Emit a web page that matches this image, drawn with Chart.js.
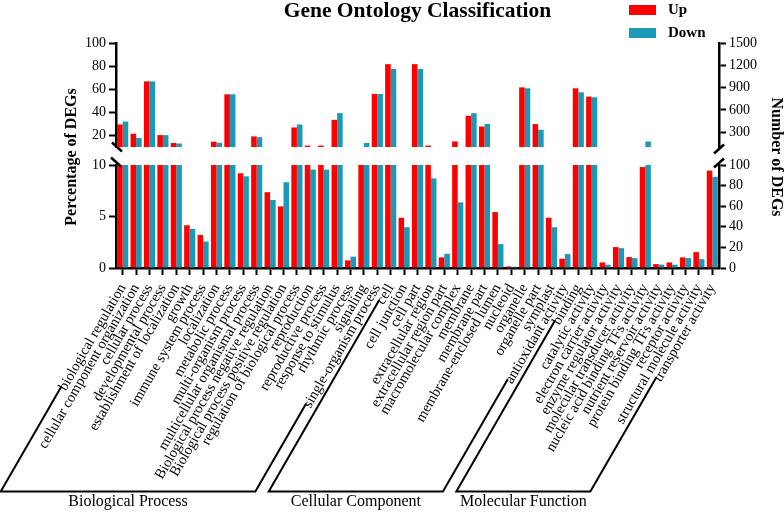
<!DOCTYPE html>
<html>
<head>
<meta charset="utf-8">
<script src="https://cdn.jsdelivr.net/npm/chart.js@4.4.1/dist/chart.umd.min.js"></script>
<style>
    html, body { margin: 0; padding: 0; background: #fff; }
    #wrap { position: relative; width: 784px; height: 512px; }
    #wrap canvas { position: absolute; left: 0; top: 0; }
</style>
</head>
<body>
<div id="wrap">
    <canvas id="lowerChart" width="784" height="512"></canvas>
    <canvas id="upperChart" width="784" height="160"></canvas>
</div>
<script>
// GO terms, in plot order
const categories = [
    'biological regulation', 'cellular component organization', 'cellular process',
    'developmental process', 'establishment of localization', 'growth',
    'immune system process', 'localization', 'metabolic process',
    'multi-organism process', 'multicellular organismal process',
    'Biological process negative regulation', 'Biological process positive regulation',
    'regulation of biological process', 'reproduction', 'reproductive process',
    'response to stimulus', 'rhythmic process', 'signaling', 'single-organism process',
    'cell', 'cell junction', 'cell part', 'extracellular region', 'extracellular region part',
    'macromolecular complex', 'membrane', 'membrane part', 'membrane-enclosed lumen',
    'nucleoid', 'organelle', 'organelle part', 'symplast',
    'antioxidant activity', 'binding', 'catalytic activity', 'electron carrier activity',
    'enzyme regulator activity', 'molecular transducer activity',
    'nucleic acid binding TFs activity', 'nutrient reservoir activity',
    'protein binding TFs activity', 'receptor activity', 'structural molecule activity',
    'transporter activity'
];

// Percentage of DEGs
const upPct = [29.5, 21.5, 66.8, 20.3, 13.5, 4.15, 3.2, 14.6, 55.6, 9.2, 19.2, 7.36, 5.98, 26.9, 11.2,
    11.2, 33.5, 0.74, 10, 55.9, 81.7, 4.88, 81.7, 11.2, 1.03, 14.8, 37, 27.7, 5.43, 0.15,
    61.6, 29.8, 4.88, 0.9, 60.8, 53.6, 0.54, 2.03, 1.06, 9.8, 0.38, 0.54, 1.03, 1.54, 9.46];
const downPct = [32, 17.8, 66.8, 20.3, 13, 3.8, 2.57, 13.7, 55.6, 8.9, 18.5, 6.6, 8.33, 29.5, 9.55,
    9.55, 39.3, 1.1, 13.5, 55.9, 77.6, 3.96, 77.6, 8.7, 1.38, 6.37, 39.3, 30, 2.32, 0.12,
    60.8, 24.9, 3.96, 1.35, 57.3, 53, 0.32, 1.93, 0.96, 14.8, 0.33, 0.32, 0.96, 0.86, 8.85];

// axis break and tick labels
const breakAt = 10;
const leftTopTicks = [20, 40, 60, 80, 100];
const leftBottomTicks = [0, 5, 10];
const rightTopTicks = [300, 600, 900, 1200, 1500];
const rightBottomTicks = [0, 20, 40, 60, 80, 100];

// groups along the x axis (index of first / last label the bracket touches)
const groupNames = ['Biological Process', 'Cellular Component', 'Molecular Function'];
const groupFirst = [0, 20, 34];
const groupLast = [19, 33, 44];

const upColor = '#ff0000';
const downColor = '#1a9ab6';
const serif = '"Liberation Serif", "Times New Roman", serif';

Chart.defaults.font.family = serif;
Chart.defaults.color = '#000';

const LABEL_ANGLE = 60;
const LABEL_FONT = 14.5;
const LABEL_PAD = 6;

function yAxis(pos, min, max, ticks, width) {
    return {
        position: pos,
        min: min,
        max: max,
        afterBuildTicks: s => { s.ticks = ticks.map(v => ({ value: v })); },
        afterFit: s => { s.width = width; },
        border: { color: '#000', width: 2.5 },
        grid: { drawOnChartArea: false, tickLength: 7, tickColor: '#000', tickWidth: 2 },
        ticks: { font: { size: 14 }, padding: 3, color: '#000', callback: v => String(v) }
    };
}

// title + legend on the upper panel
const titleLegend = {
    id: 'titleLegend',
    afterDraw(chart) {
        const ctx = chart.ctx;
        const area = chart.chartArea;
        ctx.save();
        ctx.fillStyle = '#000';
        ctx.font = 'bold 21.5px ' + serif;
        ctx.textAlign = 'center';
        ctx.textBaseline = 'alphabetic';
        ctx.fillText('Gene Ontology Classification', (area.left + area.right) / 2, 17);

        ctx.font = 'bold 15px ' + serif;
        ctx.textAlign = 'left';
        ctx.textBaseline = 'middle';
        chart.data.datasets.forEach((ds, i) => {
            const y = 5 + i * 23;
            ctx.fillStyle = ds.backgroundColor;
            ctx.fillRect(629, y, 27, 10);
            ctx.fillStyle = '#000';
            ctx.fillText(ds.label, 668, y + 5);
        });
        ctx.restore();
    }
};

// axis titles, break marks and group brackets on the lower chart
const decorations = {
    id: 'decorations',
    afterDraw(chart) {
        const ctx = chart.ctx;
        const area = chart.chartArea;
        const x = chart.scales.x;
        const upperBottom = 147;
        ctx.save();
        ctx.fillStyle = '#000';
        ctx.strokeStyle = '#000';

        // axis titles
        ctx.font = 'bold 16px ' + serif;
        ctx.textAlign = 'center';
        ctx.textBaseline = 'middle';
        ctx.save();
        ctx.translate(72, 157);
        ctx.rotate(-Math.PI / 2);
        ctx.fillText('Percentage of DEGs', 0, 0);
        ctx.restore();
        ctx.save();
        ctx.translate(776, 157);
        ctx.rotate(Math.PI / 2);
        ctx.fillText('Number of DEGs', 0, 0);
        ctx.restore();

        // break marks
        ctx.lineWidth = 2.5;
        const mark = (cx, cy, dir) => {
            ctx.beginPath();
            ctx.moveTo(cx - 5, cy - 4.5 * dir);
            ctx.lineTo(cx + 5, cy + 4.5 * dir);
            ctx.stroke();
        };
        mark(area.left + 1, upperBottom, 1);
        mark(area.left, area.top - 3, 1);
        mark(area.right, upperBottom + 2, -1);
        mark(area.right, area.top - 2, -1);

        // group brackets following the rotated labels
        ctx.font = LABEL_FONT + 'px ' + serif;
        const a = LABEL_ANGLE * Math.PI / 180;
        const baseY = 491.5;
        const labelStart = i => {
            const w = ctx.measureText(categories[i]).width;
            const px = x.getPixelForValue(i);
            const py = x.top + 7 + LABEL_PAD;
            return [px - w * Math.cos(a) - 1, py + w * Math.sin(a) + 1];
        };
        const toBase = p => [p[0] - (baseY - p[1]) / Math.tan(a), baseY];

        ctx.lineWidth = 2;
        groupNames.forEach((name, g) => {
            const s = labelStart(groupFirst[g]);
            const e = labelStart(groupLast[g]);
            const sb = toBase(s);
            const eb = toBase(e);
            ctx.beginPath();
            ctx.moveTo(s[0], s[1]);
            ctx.lineTo(sb[0], sb[1]);
            ctx.lineTo(eb[0], eb[1]);
            ctx.lineTo(e[0], e[1]);
            ctx.stroke();
            ctx.save();
            ctx.font = '16px ' + serif;
            ctx.textAlign = 'center';
            ctx.textBaseline = 'middle';
            ctx.fillText(name, (sb[0] + eb[0]) / 2, 502);
            ctx.restore();
        });
        ctx.restore();
    }
};

const barOpts = { bar: { categoryPercentage: 0.83, barPercentage: 1 } };

// upper panel: values above the break
const upperChart = new Chart(document.getElementById('upperChart'), {
    type: 'bar',
    data: {
        labels: categories,
        datasets: [
            { label: 'Up', data: upPct.map(v => v > breakAt ? [breakAt, v] : null), backgroundColor: upColor, yAxisID: 'y' },
            { label: 'Down', data: downPct.map(v => v > breakAt ? [breakAt, v] : null), backgroundColor: downColor, yAxisID: 'y' }
        ]
    },
    options: {
        responsive: false,
        animation: false,
        layout: { padding: { top: 43, bottom: 13, left: 0, right: 0 } },
        datasets: barOpts,
        plugins: { legend: { display: false }, tooltip: { enabled: false } },
        scales: {
            x: { display: false, offset: true },
            y: yAxis('left', breakAt, 100, leftTopTicks, 116),
            y2: yAxis('right', 100, 1500, rightTopTicks, 65)
        }
    },
    plugins: [titleLegend]
});

// lower panel: values up to the break
const lowerChart = new Chart(document.getElementById('lowerChart'), {
    type: 'bar',
    data: {
        labels: categories,
        datasets: [
            { label: 'Up', data: upPct.map(v => Math.min(v, breakAt)), backgroundColor: upColor, yAxisID: 'y' },
            { label: 'Down', data: downPct.map(v => Math.min(v, breakAt)), backgroundColor: downColor, yAxisID: 'y' }
        ]
    },
    options: {
        responsive: false,
        animation: false,
        layout: { padding: { top: 165, bottom: 0, left: 0, right: 0 } },
        datasets: barOpts,
        plugins: { legend: { display: false }, tooltip: { enabled: false } },
        scales: {
            x: {
                offset: true,
                afterFit: s => { s.height = 244; },
                border: { color: '#000', width: 2.5 },
                grid: { offset: false, drawOnChartArea: false, tickLength: 7, tickColor: '#000', tickWidth: 2 },
                ticks: {
                    autoSkip: false,
                    minRotation: LABEL_ANGLE,
                    maxRotation: LABEL_ANGLE,
                    padding: LABEL_PAD,
                    font: { size: LABEL_FONT },
                    color: '#000'
                }
            },
            y: yAxis('left', 0, breakAt, leftBottomTicks, 116),
            y2: yAxis('right', 0, 100, rightBottomTicks, 65)
        }
    },
    plugins: [decorations]
});
</script>
</body>
</html>
